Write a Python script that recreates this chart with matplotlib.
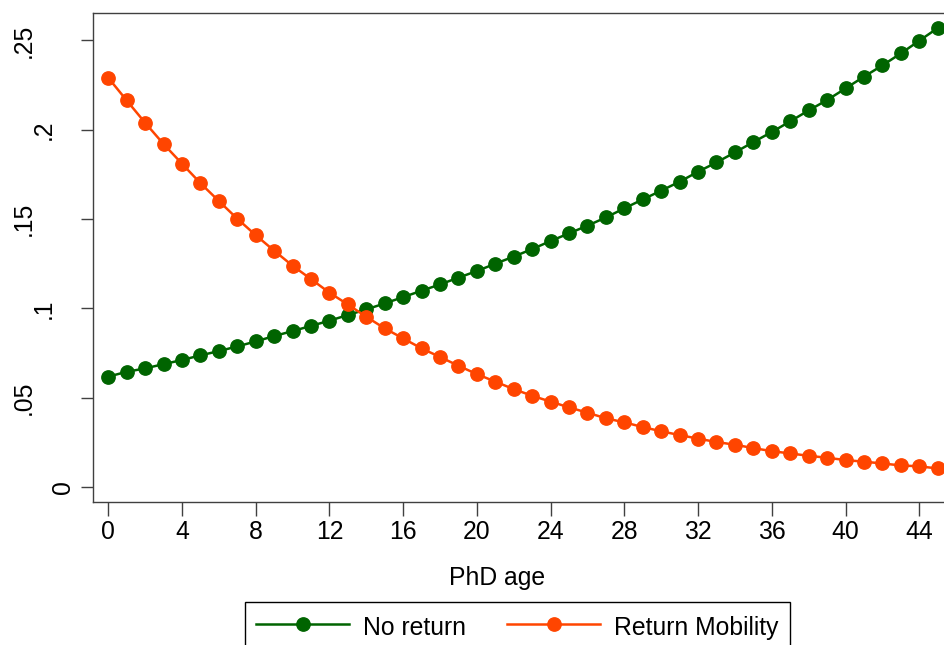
import matplotlib
matplotlib.use("Agg")
import matplotlib.pyplot as plt
import matplotlib.transforms as mtransforms

plt.rcParams['font.family'] = ['Liberation Sans', 'DejaVu Sans']

ages = list(range(46))
no_return = [0.0618, 0.0645, 0.0664, 0.0688, 0.0711, 0.0737, 0.0761, 0.0787, 0.0815, 0.0845,
             0.0873, 0.0902, 0.0931, 0.0963, 0.0994, 0.1028, 0.1063, 0.1099, 0.1134, 0.1172,
             0.1209, 0.1250, 0.1290, 0.1332, 0.1377, 0.1420, 0.1463, 0.1509, 0.1560, 0.1610,
             0.1659, 0.1709, 0.1765, 0.1817, 0.1873, 0.1931, 0.1987, 0.2047, 0.2108, 0.2166,
             0.2231, 0.2297, 0.2360, 0.2427, 0.2498, 0.2569]
return_mob = [0.2291, 0.2164, 0.2039, 0.1920, 0.1810, 0.1701, 0.1601, 0.1502, 0.1410, 0.1323,
              0.1239, 0.1164, 0.1088, 0.1022, 0.0953, 0.0888, 0.0832, 0.0776, 0.0728, 0.0679,
              0.0632, 0.0590, 0.0548, 0.0511, 0.0478, 0.0446, 0.0416, 0.0385, 0.0362, 0.0336,
              0.0312, 0.0291, 0.0271, 0.0252, 0.0237, 0.0218, 0.0201, 0.0188, 0.0175, 0.0164,
              0.0151, 0.0142, 0.0132, 0.0121, 0.0116, 0.0104]
series_labels = ["No return", "Return Mobility"]
xticks = list(range(0, 45, 4))
yticks = [0, 0.05, 0.1, 0.15, 0.2, 0.25]
ytick_labels = ["0", ".05", ".1", ".15", ".2", ".25"]
xlabel = "PhD age"

GREEN = "#006400"
ORANGE = "#FF4500"
FS = 17.8
SPINE = "#404040"

fig = plt.figure(figsize=(9.45, 6.45), dpi=100)
ax = fig.add_axes([93.3 / 945, (645 - 501.7) / 645, (948 - 93.3) / 945, (501.7 - 12.7) / 645])

ax.plot(ages, no_return, color=GREEN, lw=1.8, marker='o', ms=9.6, label=series_labels[0])
ax.plot(ages, return_mob, color=ORANGE, lw=1.8, marker='o', ms=9.6, label=series_labels[1])

ax.set_xlim(-0.81, 45.56)
ax.set_ylim(-0.0082, 0.2655)

ax.set_xticks(xticks)
ax.set_xticklabels([str(t) for t in xticks], fontsize=FS)
ax.set_yticks(yticks)
ax.tick_params(axis='y', labelleft=False, length=9, width=1, color=SPINE, direction='out')
ax.tick_params(axis='x', length=10, width=1, color=SPINE, direction='out', pad=3)

for lab, yv in zip(ytick_labels, yticks):
    dx = -(9.8 + 20 * len(lab)) / 100.0
    tr = mtransforms.blended_transform_factory(ax.transAxes, ax.transData) + \
        mtransforms.ScaledTranslation(dx, 0, fig.dpi_scale_trans)
    ax.text(0, yv, lab, transform=tr, rotation=90, ha='center', va='center', fontsize=FS)

for s in ax.spines.values():
    s.set_color(SPINE)
    s.set_linewidth(1.0)

ax.set_xlabel(xlabel, fontsize=FS)
ax.xaxis.label.set_va('center')
ax.xaxis.set_label_coords((497 - 93.3) / (948 - 93.3), (501.7 - 578) / (501.7 - 12.7))

leg = fig.legend(loc='upper left', bbox_to_anchor=(245 / 945, 1 - 602 / 645), ncol=2,
                 fontsize=FS, frameon=True, fancybox=False, framealpha=1, edgecolor='black',
                 handlelength=3.76, handletextpad=0.57, columnspacing=1.66, borderpad=0.45,
                 handleheight=1.3, borderaxespad=0, numpoints=1)
leg.get_frame().set_linewidth(1.0)

fig.savefig("out.png", dpi=100)
